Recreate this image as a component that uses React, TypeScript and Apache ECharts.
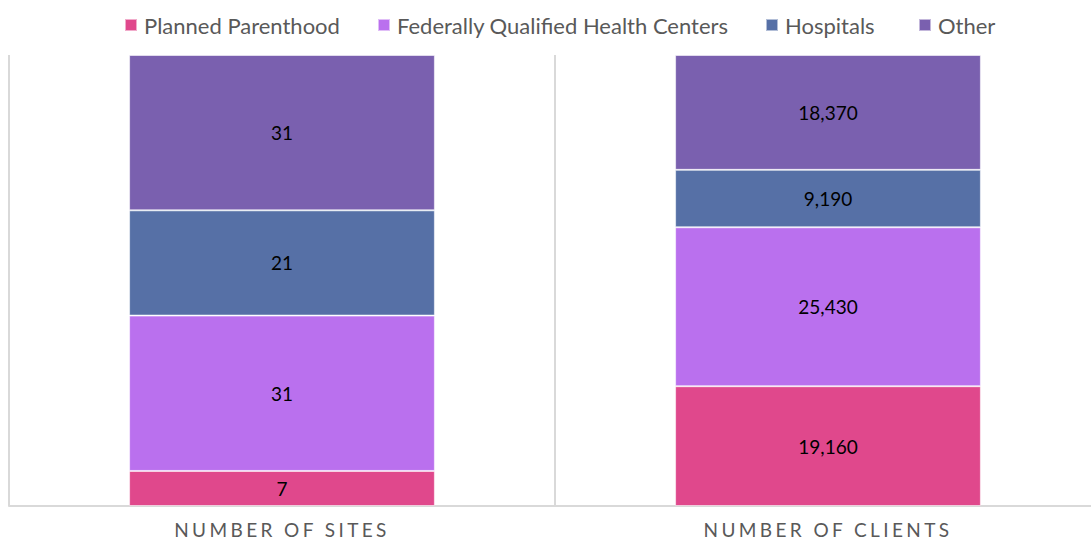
import React, { useEffect, useRef } from "react";
import * as echarts from "echarts";

const categories = ["NUMBER OF SITES", "NUMBER OF CLIENTS"];
const seriesNames = ["Planned Parenthood", "Federally Qualified Health Centers", "Hospitals", "Other"];
const plannedParenthood = [7, 19160];
const fqhc = [31, 25430];
const hospitals = [21, 9190];
const other = [31, 18370];
const colors = ["#E0488C", "#BA70EE", "#5670A6", "#7A60AF"];
const legendLefts = [124, 377, 765, 918];

const raw = [plannedParenthood, fqhc, hospitals, other];

export default function App() {
  const ref = useRef<HTMLDivElement>(null);
  useEffect(() => {
    document.body.style.margin = "0";
    if (!ref.current) return;
    const chart = echarts.init(ref.current, null, { renderer: "svg" });
    const totals = categories.map((_, i) => raw.reduce((s, arr) => s + arr[i], 0));
    const fmt = (v: number) => v.toLocaleString("en-US");
    chart.setOption({
      animation: false,
      textStyle: { fontFamily: "Lato" },
      legend: seriesNames.map((name, i) => ({
        top: 14,
        left: legendLefts[i],
        padding: 0,
        itemWidth: 12,
        itemHeight: 12,
        icon: "rect",
        textStyle: { fontSize: 22, color: "#595959", fontFamily: "Lato", padding: [0, 0, 0, 2] },
        data: [name],
      })),
      grid: { left: 9, width: 1092, top: 55, height: 451, outerBoundsMode: "none", containLabel: false },
      xAxis: {
        type: "category",
        data: categories,
        axisLine: { show: true, lineStyle: { color: "#d9d9d9", width: 2 } },
        axisTick: { show: false },
        splitLine: { show: true, lineStyle: { color: "#d9d9d9", width: 2 } },
        axisLabel: { fontSize: 19, color: "#595959", margin: 14, fontFamily: "Lato" },
      },
      yAxis: {
        type: "value",
        min: 0,
        max: 100,
        show: false,
      },
      series: seriesNames.map((name, si) => ({
        name,
        type: "bar",
        stack: "total",
        barWidth: "56%",
        itemStyle: { color: colors[si], borderColor: "rgba(255,255,255,0.55)", borderWidth: 1 },
        label: {
          show: true,
          position: "inside",
          color: "#000",
          fontSize: 19,
          fontFamily: "Lato",
          formatter: (p: any) => fmt(raw[si][p.dataIndex]),
        },
        data: raw[si].map((v, i) => (v / totals[i]) * 100),
      })),
    });
    const applySpacing = () => {
      const texts = ref.current?.querySelectorAll("text") || [];
      texts.forEach((t) => {
        if (categories.includes((t.textContent || "").trim())) {
          (t as SVGTextElement).style.letterSpacing = "3.4px";
        }
      });
    };
    applySpacing();
    chart.on("finished", applySpacing);
    return () => {
      chart.dispose();
    };
  }, []);
  return <div ref={ref} style={{ width: 1091, height: 541, overflow: "hidden" }} />;
}
